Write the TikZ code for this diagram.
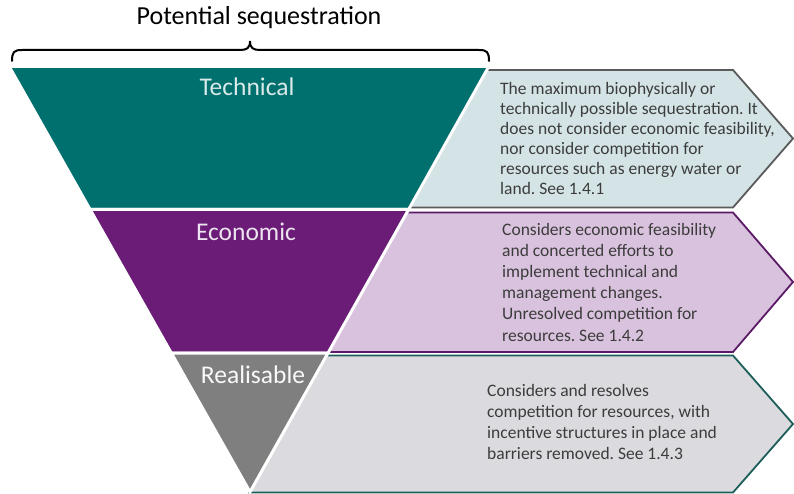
\documentclass[tikz,border=0pt]{standalone}
\usepackage{fontspec}
\setmainfont{Carlito}
\frenchspacing
\definecolor{teal1}{HTML}{00706F}
\definecolor{techfill}{HTML}{D4E4E6}
\definecolor{techline}{HTML}{5A5A5A}
\definecolor{purp1}{HTML}{6A1C77}
\definecolor{econfill}{HTML}{D9C2DD}
\definecolor{econline}{HTML}{5A1A66}
\definecolor{gray1}{HTML}{7F7F7F}
\definecolor{realfill}{HTML}{DBDBDF}
\definecolor{realline}{HTML}{1D5E5A}
\definecolor{desctext}{HTML}{3C3C3C}
\begin{document}
\begin{tikzpicture}[x=1pt,y=-1pt,
  band/.style={draw=white, line width=3pt, line join=miter},
  arrowshape/.style={line width=1.8pt, line join=miter},
  bandlabel/.style={inner sep=0pt, font=\fontsize{25.5}{30}\selectfont},
  descbox/.style={anchor=west, align=left, text=desctext, inner sep=0pt},
]
\useasboundingbox (0,0) rectangle (794,494);

% arrows (behind)
\path[arrowshape, fill=techfill, draw=techline]
  (487,70) -- (733,70) -- (793,138.5) -- (733,207.5) -- (410,207.5) -- cycle;
\path[arrowshape, fill=econfill, draw=econline]
  (406.6,212.5) -- (733,212.5) -- (793,282) -- (733,352) -- (328.6,352) -- cycle;
\path[arrowshape, fill=realfill, draw=realline]
  (326.9,355.5) -- (733,355.5) -- (793,424) -- (733,492.5) -- (249.4,492.5) -- cycle;

% inverted triangle bands
\path[band, fill=teal1]
  (9.2,66.5) -- (488.8,66.5) -- (408.6,209.5) -- (90.1,209.5) -- cycle;
\path[band, fill=purp1]
  (90.1,209.5) -- (408.6,209.5) -- (328,353) -- (171.3,353) -- cycle;
\path[band, fill=gray1]
  (171.3,353) -- (328,353) -- (250,492) -- cycle;

% band labels
\node[bandlabel, text=white!85!teal1] (ltech) at (247,87) {Technical};
\node[bandlabel, text=white!88!purp1] (lecon) at (246,232) {Economic};
\node[bandlabel, text=white!95!gray1] (lreal) at (253,375) {Realisable};

% title and brace
\node[inner sep=0pt, font=\fontsize{26}{30}\selectfont] (title) at (259,18) {Potential sequestration};
\draw[line width=2pt, line cap=round]
  (12,61) .. controls (12,52) and (14,50) .. (22,50) -- (240,50)
  .. controls (247,50) and (250,48) .. (250,41)
  .. controls (250,48) and (253,50) .. (260,50) -- (479,50)
  .. controls (487,50) and (489,52) .. (489,61);

% descriptions
\node[descbox, font=\fontsize{17.5}{20}\selectfont] (dtech) at (500,138.5)
  {The maximum biophysically or\\
   technically possible sequestration. It\\
   does not consider economic feasibility,\\
   nor consider competition for\\
   resources such as energy water or\\
   land. See 1.4.1};
\node[descbox, font=\fontsize{17.5}{21.2}\selectfont] (decon) at (502,282)
  {Considers economic feasibility\\
   and concerted efforts to\\
   implement technical and\\
   management changes.\\
   Unresolved competition for\\
   resources. See 1.4.2};
\node[descbox, font=\fontsize{17.5}{21}\selectfont] (dreal) at (487,422)
  {Considers and resolves\\
   competition for resources, with\\
   incentive structures in place and\\
   barriers removed. See 1.4.3};
\end{tikzpicture}
\end{document}
